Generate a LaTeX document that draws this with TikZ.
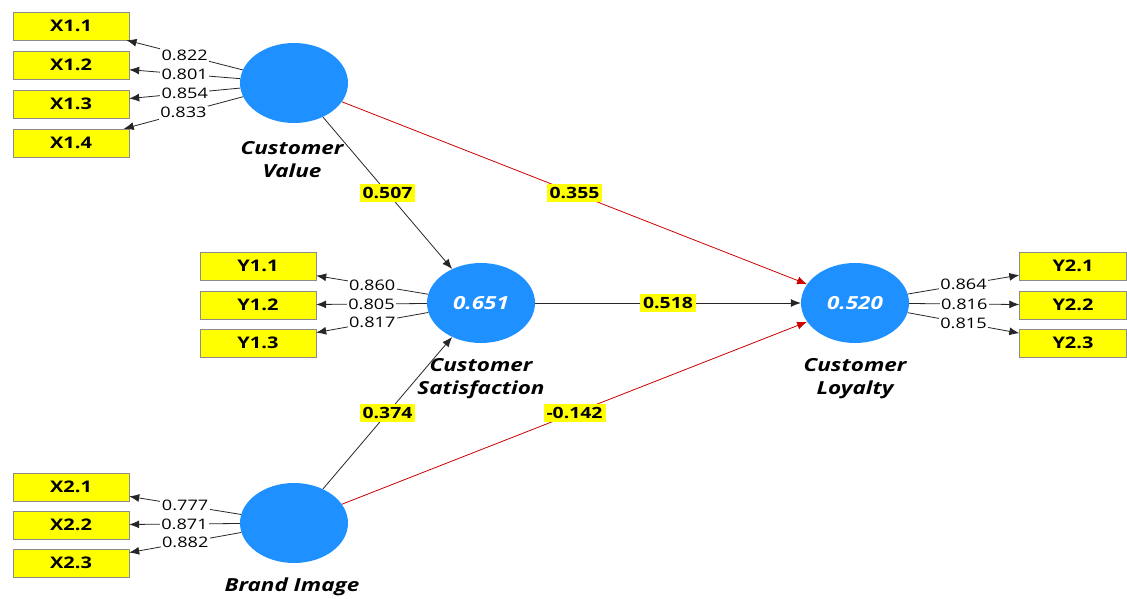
\documentclass[tikz,border=0pt]{standalone}
\usepackage{fontspec}
\setmainfont{Open Sans}[FakeStretch=1.25]
\usetikzlibrary{arrows.meta,shapes.geometric}

\definecolor{lvblue}{RGB}{30,144,255}
\definecolor{mvyellow}{RGB}{255,255,0}

\tikzset{
  mv/.style={draw=black!45, fill=mvyellow, minimum width=116pt, minimum height=28pt,
    inner sep=0pt, font=\fontsize{16}{16}\selectfont\bfseries},
  lv/.style={ellipse, fill=lvblue, minimum width=108pt, minimum height=80pt,
    inner sep=0pt, text=white, font=\fontsize{18}{18}\selectfont\bfseries\itshape},
  lvname/.style={align=center, font=\fontsize{18}{23}\selectfont\bfseries\itshape},
  load/.style={fill=white, inner sep=1.5pt, font=\fontsize{14.5}{14.5}\selectfont},
  coef/.style={fill=mvyellow, inner sep=3pt, font=\fontsize{15.5}{15.5}\selectfont\bfseries},
  outer/.style={draw=black!85, line width=0.8pt, -{Latex[length=10pt,width=8pt]}},
  redpath/.style={draw=red!80!black, line width=0.8pt, -{Latex[length=10pt,width=8pt]}}
}

\begin{document}
\begin{tikzpicture}[x=1pt, y=-1pt]
    \useasboundingbox (0,0) rectangle (1127,598);

    % latent variables
    \node [lv] (cv) at (294,83)  {};
    \node [lv] (cs) at (481,303) {0.651};
    \node [lv] (cl) at (855,303) {0.520};
    \node [lv] (bi) at (294,523) {};

    \node [lvname] (cvname) at (292,160) {Customer\\Value};
    \node [lvname] (csname) at (481,379) {Customer\\Satisfaction};
    \node [lvname] (clname) at (855,379) {Customer\\Loyalty};
    \node [lvname] (biname) at (292,587) {Brand Image};

    % indicators
    \node [mv] (x11) at (71,26)  {X1.1};
    \node [mv] (x12) at (71,65)  {X1.2};
    \node [mv] (x13) at (71,104) {X1.3};
    \node [mv] (x14) at (71,143) {X1.4};

    \node [mv] (y11) at (258,266) {Y1.1};
    \node [mv] (y12) at (258,305) {Y1.2};
    \node [mv] (y13) at (258,343) {Y1.3};

    \node [mv, minimum width=107pt] (y21) at (1073,266) {Y2.1};
    \node [mv, minimum width=107pt] (y22) at (1073,305) {Y2.2};
    \node [mv, minimum width=107pt] (y23) at (1073,343) {Y2.3};

    \node [mv] (x21) at (71,487) {X2.1};
    \node [mv] (x22) at (71,525) {X2.2};
    \node [mv] (x23) at (71,563) {X2.3};

    % outer loadings
    \foreach \ind/\val in {x11/0.822, x12/0.801, x13/0.854, x14/0.833}
        \draw [outer] (cv) -- node [load] {\val} (\ind);
    \foreach \ind/\val in {y11/0.860, y12/0.805, y13/0.817}
        \draw [outer] (cs) -- node [load] {\val} (\ind);
    \foreach \ind/\val in {y21/0.864, y22/0.816, y23/0.815}
        \draw [outer] (cl) -- node [load] {\val} (\ind);
    \foreach \ind/\val in {x21/0.777, x22/0.871, x23/0.882}
        \draw [outer] (bi) -- node [load] {\val} (\ind);

    % path coefficients
    \draw [outer]   (cv) -- node [coef] {0.507}  (cs);
    \draw [redpath] (cv) -- node [coef] {0.355}  (cl);
    \draw [outer]   (cs) -- node [coef] {0.518}  (cl);
    \draw [outer]   (bi) -- node [coef] {0.374}  (cs);
    \draw [redpath] (bi) -- node [coef] {-0.142} (cl);
\end{tikzpicture}
\end{document}
